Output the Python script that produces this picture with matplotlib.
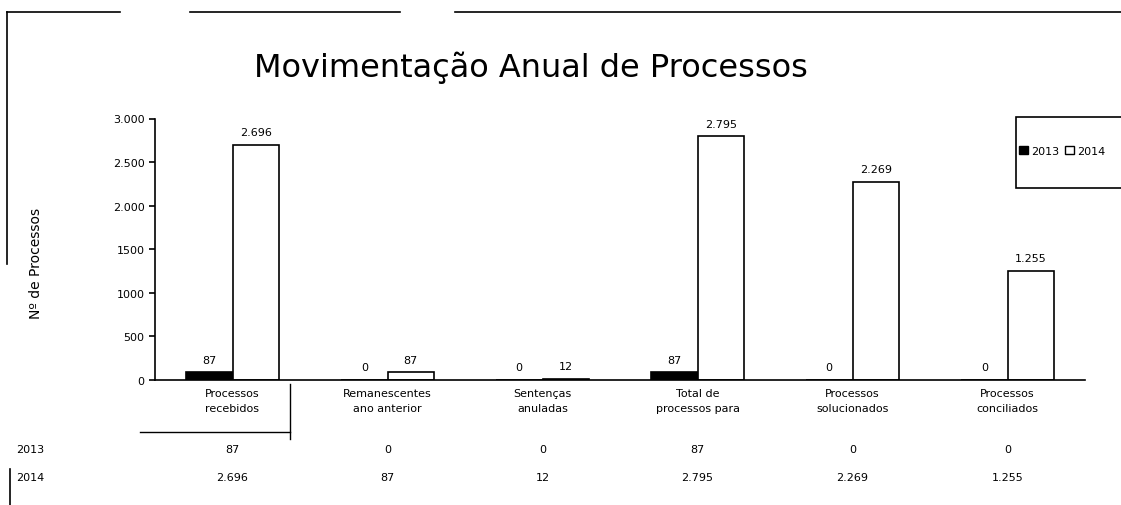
import matplotlib
matplotlib.use("Agg")
import numpy as np
import matplotlib.pyplot as plt
from matplotlib.lines import Line2D
from matplotlib.patches import Patch, Rectangle

# data
categories = ["Processos\nrecebidos", "Remanescentes\nano anterior", "Sentenças\nanuladas",
              "Total de\nprocessos para", "Processos\nsolucionados", "Processos\nconciliados"]
years = ["2013", "2014"]
vals_2013 = [87, 0, 0, 87, 0, 0]
vals_2014 = [2696, 87, 12, 2795, 2269, 1255]
yticks = [0, 500, 1000, 1500, 2000, 2500, 3000]
ytick_labels = ["0", "500", "1000", "1500", "2.000", "2.500", "3.000"]


def fmt(v):
    return "{:,}".format(v).replace(",", ".")


plt.rcParams['font.family'] = ['DejaVu Sans']
W, H = 1121, 506
fig = plt.figure(figsize=(W / 100, H / 100), dpi=100)
ax = fig.add_axes([155 / W, 1 - 381 / H, 930 / W, (381 - 119.5) / H])

x = np.arange(len(categories))
bw = 0.3
ax.bar(x - bw / 2, vals_2013, bw, color="black", edgecolor="black", linewidth=1.2)
ax.bar(x + bw / 2, vals_2014, bw, color="white", edgecolor="black", linewidth=1.2)

for xi, v in zip(x, vals_2013):
    ax.text(xi - bw / 2, v + 90, fmt(v), ha="center", va="bottom", fontsize=8)
for xi, v in zip(x, vals_2014):
    ax.text(xi + bw / 2, v + 90, fmt(v), ha="center", va="bottom", fontsize=8)

ax.set_xlim(-0.5, len(categories) - 0.5)
ax.set_ylim(0, 3000)
ax.set_yticks(yticks)
ax.set_yticklabels(ytick_labels, fontsize=8)
ax.set_xticks(x)
ax.set_xticklabels(categories, fontsize=8, linespacing=1.6)
ax.tick_params(axis="x", length=0, pad=6)
ax.tick_params(axis="y", length=4, direction="out", width=1.2)
for s in ["top", "right"]:
    ax.spines[s].set_visible(False)
ax.spines["left"].set_linewidth(1.2)
ax.spines["bottom"].set_linewidth(1.2)

ax.set_ylabel("Nº de Processos", fontsize=10)
ax.yaxis.set_label_coords(-0.12, 0.45)

fig.text(531 / W, 1 - 68 / H, "Movimentação Anual de Processos", ha="center", va="center",
         fontsize=23)

# data table under the chart
for row, (yr, vals) in enumerate(zip(years, [vals_2013, vals_2014])):
    ypix = 450 + row * 28
    fig.text(30 / W, 1 - ypix / H, yr, ha="center", va="center", fontsize=8)
    for xi, v in zip(x, vals):
        xd = ax.transData.transform((xi, 0))[0]
        fig.text(xd / W, 1 - ypix / H, fmt(v), ha="center", va="center", fontsize=8)

# table cell lines around the first column
fig.add_artist(Line2D([140 / W, 290 / W], [1 - 433 / H, 1 - 433 / H], color="black", lw=1))
fig.add_artist(Line2D([290 / W, 290 / W], [1 - 385 / H, 1 - 440 / H], color="black", lw=1))

# legend (frame drawn separately, runs off the right edge)
fig.add_artist(Rectangle((1016 / W, 1 - 189 / H), 120 / W, 71 / H, transform=fig.transFigure,
                         facecolor="white", edgecolor="black", lw=1.2))
handles = [Patch(facecolor="black", edgecolor="black", label="2013"),
           Patch(facecolor="white", edgecolor="black", label="2014")]
fig.legend(handles=handles, loc="center left", bbox_to_anchor=(1019 / W, 1 - 152 / H),
           ncol=2, fontsize=8, frameon=False, borderpad=0, borderaxespad=0,
           handlelength=0.8, handleheight=0.8, handletextpad=0.3, columnspacing=0.5)

# chart border fragments
for x0, x1 in [(7, 120), (190, 400), (455, 1121)]:
    fig.add_artist(Line2D([x0 / W, x1 / W], [1 - 13 / H, 1 - 13 / H], color="black", lw=1.2))
fig.add_artist(Line2D([7 / W, 7 / W], [1 - 13 / H, 1 - 265 / H], color="black", lw=1.2))
fig.add_artist(Line2D([10 / W, 10 / W], [1 - 470 / H, 0], color="black", lw=1.2))

fig.savefig("out.png", dpi=100, facecolor="white")
